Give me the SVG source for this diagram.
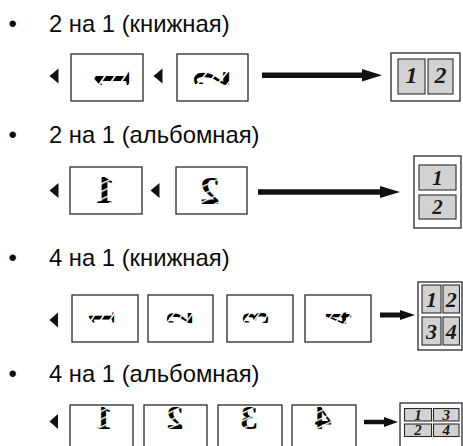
<svg xmlns="http://www.w3.org/2000/svg" width="463" height="446" viewBox="0 0 463 446">
<defs>
<pattern id="st" patternUnits="userSpaceOnUse" width="7" height="7" patternTransform="rotate(25)">
<rect width="7" height="7" fill="#000"/>
<rect y="0" width="7" height="1.4" fill="#fff"/>
</pattern>
</defs>
<style>
.t{font-family:"Liberation Sans",Arial,sans-serif;font-size:23.8px;fill:#0a0a0a}
.pg{fill:#fff;stroke:#2a2a2a;stroke-width:1.3}
.out{fill:#fff;stroke:#2a2a2a;stroke-width:1.3}
.pn{fill:#d2d2d2;stroke:#2a2a2a;stroke-width:1.1}
.d{font-family:"Liberation Serif","Times New Roman",serif;font-weight:bold;font-style:italic;fill:#1a1a1a;text-anchor:middle}
.g{font-family:"Liberation Serif","Times New Roman",serif;font-weight:bold;fill:url(#st);text-anchor:middle;dominant-baseline:central}
.ln{stroke:#111;fill:none}
.hd{fill:#111}
</style>
<rect width="463" height="446" fill="#fff"/>

<g id="titles">
<text class="t" x="8.5" y="32">•</text><text class="t" x="49" y="32">2 на 1 (книжная)</text>
<text class="t" x="8.5" y="143">•</text><text class="t" x="49" y="143">2 на 1 (альбомная)</text>
<text class="t" x="8.5" y="266">•</text><text class="t" x="49" y="266">4 на 1 (книжная)</text>
<text class="t" x="8.5" y="382">•</text><text class="t" x="49" y="382">4 на 1 (альбомная)</text>
</g>

<g id="connectors">
<polygon class="hd" points="49.5,76 58.5,68.5 58.5,83.5"/>
<polygon class="hd" points="153.5,76 162.5,68.5 162.5,83.5"/>
<line class="ln" x1="262" y1="75.3" x2="365" y2="75.3" stroke-width="5.5"/>
<polygon class="hd" points="362,69 382,75.3 362,81.6"/>

<polygon class="hd" points="49.5,190.5 58.5,183 58.5,198"/>
<polygon class="hd" points="150.5,190.5 159.5,183 159.5,198"/>
<line class="ln" x1="258" y1="192" x2="383" y2="192" stroke-width="5.5"/>
<polygon class="hd" points="380,186 400,192 380,198"/>

<polygon class="hd" points="49.5,320 58,312.5 58,327.5"/>
<line class="ln" x1="380" y1="315" x2="402" y2="315" stroke-width="5"/>
<polygon class="hd" points="400,310 415,315 400,320"/>

<polygon class="hd" points="49.5,421.5 58,414 58,429"/>
<line class="ln" x1="364" y1="422" x2="386" y2="422" stroke-width="4.5"/>
<polygon class="hd" points="384,417 398,422 384,427"/>
</g>

<g id="row1-page1"><rect class="pg" x="71" y="54" width="72" height="47"/><text class="g" font-size="40" transform="translate(112,79) scale(1.3,0.9) rotate(-90)">1</text></g>
<g id="row1-page2"><rect class="pg" x="177" y="54" width="71" height="47"/><text class="g" font-size="40" transform="translate(211,78.5) scale(1.3,0.75) rotate(-90)">2</text></g>
<g id="row1-result">
<rect class="out" x="391" y="53" width="69" height="48"/>
<rect class="pn" x="398" y="59" width="27" height="35"/>
<rect class="pn" x="428" y="59" width="25" height="35"/>
<text class="d" x="411.5" y="83" font-size="24">1</text>
<text class="d" x="440.5" y="83" font-size="24">2</text>
</g>

<g id="row2-page1"><rect class="pg" x="70" y="167" width="72" height="47"/><text class="g" font-size="40" transform="translate(105,189) scale(-1,1)">1</text></g>
<g id="row2-page2"><rect class="pg" x="176" y="167" width="71" height="47"/><text class="g" font-size="40" transform="translate(210,190) scale(-1,1)">2</text></g>
<g id="row2-result">
<rect class="out" x="414" y="156" width="47" height="72"/>
<rect class="pn" x="419" y="165" width="37" height="25"/>
<rect class="pn" x="419" y="195" width="37" height="24"/>
<text class="d" x="437.5" y="184.5" font-size="21">1</text>
<text class="d" x="437.5" y="214" font-size="21">2</text>
</g>

<g id="row3-page1"><rect class="pg" x="72" y="295" width="66" height="47"/><text class="g" font-size="32" transform="translate(101,318) scale(1.2,0.85) rotate(-90)">1</text></g>
<g id="row3-page2"><rect class="pg" x="148" y="295" width="65" height="47"/><text class="g" font-size="32" transform="translate(179,318) scale(1.2,0.75) rotate(-90)">2</text></g>
<g id="row3-page3"><rect class="pg" x="227" y="295" width="66" height="47"/><text class="g" font-size="32" transform="translate(255,318) scale(1.2,0.75) rotate(-90)">3</text></g>
<g id="row3-page4"><rect class="pg" x="305" y="295" width="66" height="47"/><text class="g" font-size="32" transform="translate(338,318) scale(1.2,0.75) rotate(-90)">4</text></g>
<g id="row3-result">
<rect class="out" x="418" y="282" width="44" height="68"/>
<rect class="pn" x="422" y="285" width="19" height="28"/>
<rect class="pn" x="443" y="285" width="16.5" height="28"/>
<rect class="pn" x="422" y="317" width="19" height="28"/>
<rect class="pn" x="443" y="317" width="16.5" height="28"/>
<text class="d" x="431.5" y="307" font-size="22">1</text>
<text class="d" x="451.3" y="307" font-size="22">2</text>
<text class="d" x="431.5" y="339" font-size="22">3</text>
<text class="d" x="451.3" y="339" font-size="22">4</text>
</g>

<g id="row4-page1"><rect class="pg" x="70" y="405" width="63" height="46"/><text class="g" font-size="34" transform="translate(104,417) scale(-1,1)">1</text></g>
<g id="row4-page2"><rect class="pg" x="144" y="405" width="63" height="46"/><text class="g" font-size="34" transform="translate(175,417) scale(-1,1)">2</text></g>
<g id="row4-page3"><rect class="pg" x="218" y="405" width="64" height="46"/><text class="g" font-size="34" transform="translate(249,417) scale(-1,1)">3</text></g>
<g id="row4-page4"><rect class="pg" x="292" y="405" width="64" height="46"/><text class="g" font-size="34" transform="translate(323,417) scale(-1,1)">4</text></g>
<g id="row4-result">
<rect class="out" x="400" y="403" width="62" height="50"/>
<rect class="pn" x="404.5" y="408.5" width="27" height="12.5"/>
<rect class="pn" x="433.5" y="408.5" width="25.5" height="12.5"/>
<rect class="pn" x="404.5" y="424" width="27" height="12.5"/>
<rect class="pn" x="433.5" y="424" width="25.5" height="12.5"/>
<text class="d" x="418" y="419.5" font-size="15">1</text>
<text class="d" x="446.3" y="419.5" font-size="15">3</text>
<text class="d" x="418" y="435" font-size="15">2</text>
<text class="d" x="446.3" y="435" font-size="15">4</text>
</g>
</svg>
